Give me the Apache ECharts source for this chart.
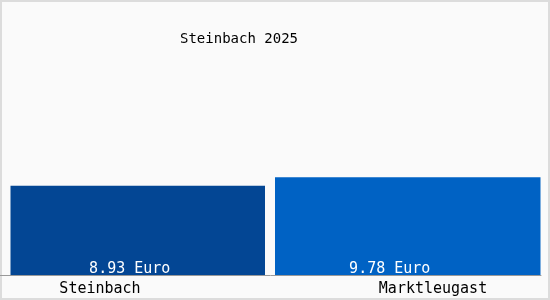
<!DOCTYPE html>
<html><head><meta charset="utf-8">
<script src="https://cdn.jsdelivr.net/npm/echarts@6/dist/echarts.min.js"></script>
<style>
html,body{margin:0;padding:0;background:#fff;}
#c{width:550px;height:300px;background:#fafafa;box-shadow:inset 0 0 0 2px #dcdcdc;}
</style></head><body>
<div id="c"></div>
<script>
const titleText = 'Steinbach 2025';
const categories = ['Steinbach', 'Marktleugast'];
const values = [8.93, 9.78];
const unit = 'Euro';

const chart = echarts.init(document.getElementById('c'));
const font = 'DejaVu Sans Mono';
chart.setOption({
  animation: false,
  title: { text: titleText, left: 175, top: 27, textStyle: { fontFamily: font, fontSize: 14, fontWeight: 'normal', color: '#000' } },
  grid: [
    { left: 10.5, right: 9.5, top: 75, bottom: 25 },
    { left: 0, right: 9, top: 75, bottom: 25 }
  ],
  xAxis: [
    {
      type: 'category', data: categories, gridIndex: 0,
      axisTick: { show: false },
      axisLine: { show: false },
      axisLabel: {
        margin: 7,
        formatter: (v, i) => i === 0 ? '{a|' + v + '}' : '{b|' + v + '}',
        rich: {
          a: { fontFamily: font, fontSize: 15, color: '#000', padding: [0, 86, 0, 0] },
          b: { fontFamily: font, fontSize: 15, color: '#000', padding: [0, 0, 0, 50] }
        }
      }
    },
    {
      type: 'category', data: categories, gridIndex: 1,
      axisTick: { show: false },
      axisLabel: { show: false },
      axisLine: { lineStyle: { color: '#999', width: 1 } }
    }
  ],
  yAxis: [
    { type: 'value', min: 0, max: 20, show: false, gridIndex: 0 },
    { type: 'value', min: 0, max: 20, show: false, gridIndex: 1 }
  ],
  series: [
    {
      type: 'bar', barWidth: 255, barGap: '-100%',
      data: [values[0], '-'],
      itemStyle: { color: '#034694' },
      label: { show: true, position: 'insideBottom', distance: -2, offset: [-8, 0],
        formatter: p => p.value.toFixed(2) + ' ' + unit,
        fontFamily: font, fontSize: 15, color: '#fff' }
    },
    {
      type: 'bar', barWidth: 266, barGap: '-100%',
      data: ['-', values[1]],
      itemStyle: { color: '#0062c4' },
      label: { show: true, position: 'insideBottom', distance: -2, offset: [-18, 0],
        formatter: p => p.value.toFixed(2) + ' ' + unit,
        fontFamily: font, fontSize: 15, color: '#fff' }
    }
  ]
});
</script></body></html>
